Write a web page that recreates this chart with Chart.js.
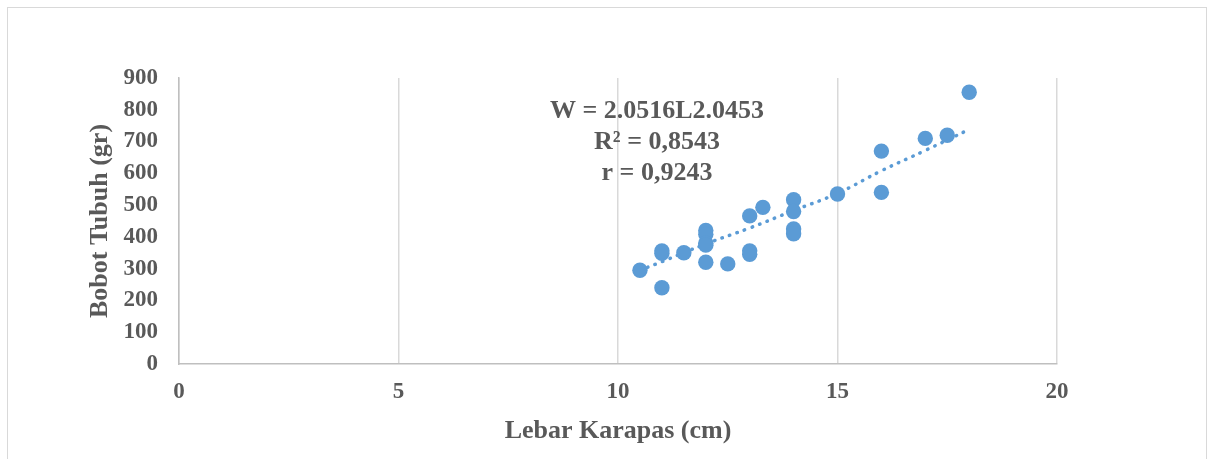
<!DOCTYPE html>
<html>
<head>
<meta charset="utf-8">
<script src="https://cdn.jsdelivr.net/npm/chart.js@4.4.4/dist/chart.umd.min.js"></script>
<style>
  html, body { margin: 0; padding: 0; background: #fff; }
  #wrap { position: relative; width: 1213px; height: 459px; overflow: hidden; }
  #frame { position: absolute; left: 7px; top: 7px; width: 1200px; height: 470px; border: 1px solid #d9d9d9; box-sizing: border-box; }
  canvas { position: absolute; left: 0; top: 0; }
</style>
</head>
<body>
<div id="wrap">
  <div id="frame"></div>
  <canvas id="chart" width="1213" height="459"></canvas>
</div>
<script>
// Lebar karapas (cm) vs bobot tubuh (gr)
const lebar = [10.5, 11, 11, 11, 11.5, 12, 12, 12, 12, 12, 12.5, 13, 13, 13, 13.3, 14, 14, 14, 14, 15, 16, 16, 17, 17.5, 18];
const bobot = [295, 240, 348, 356, 350, 420, 408, 380, 374, 320, 315, 466, 345, 356, 493, 517, 480, 425, 410, 535, 670, 540, 710, 720, 855];

// power trendline
const trendX = [10.5, 11, 12, 13, 14, 15, 16, 17, 18];
const trendY = [295, 322, 378, 428, 483, 537, 608, 672, 738];

const xTicks = [0, 5, 10, 15, 20];
const yTicks = [0, 100, 200, 300, 400, 500, 600, 700, 800, 900];

const eqLines = ['W = 2.0516L2.0453', 'R\u00b2 = 0,8543', 'r = 0,9243'];

const BLUE = '#5B9BD5';
const TEXT = '#595959';
const FONT = '"Liberation Serif", "Times New Roman", serif';

const equationPlugin = {
  id: 'equation',
  afterDatasetsDraw(chart) {
    const { ctx, chartArea } = chart;
    ctx.save();
    ctx.font = `bold 26px ${FONT}`;
    ctx.fillStyle = TEXT;
    ctx.textAlign = 'center';
    ctx.textBaseline = 'middle';
    const cx = chartArea.left + 478;
    eqLines.forEach((line, i) => ctx.fillText(line, cx, chartArea.top + 33 + i * 31));
    ctx.restore();
  },
};

new Chart(document.getElementById('chart'), {
  type: 'scatter',
  data: {
    datasets: [
      {
        label: 'Bobot',
        data: lebar.map((x, i) => ({ x, y: bobot[i] })),
        backgroundColor: BLUE,
        borderWidth: 0,
        pointRadius: 7.7,
        order: 1,
      },
      {
        type: 'line',
        label: 'Trend',
        data: trendX.map((x, i) => ({ x, y: trendY[i] })),
        borderColor: BLUE,
        borderWidth: 3.5,
        borderDash: [0.5, 7.5],
        borderCapStyle: 'round',
        pointRadius: 0,
        tension: 0.4,
        fill: false,
        order: 2,
      },
    ],
  },
  plugins: [equationPlugin],
  options: {
    responsive: false,
    animation: false,
    layout: { padding: { top: 78, right: 156, left: 0, bottom: 0 } },
    plugins: { legend: { display: false }, tooltip: { enabled: false } },
    scales: {
      x: {
        type: 'linear',
        min: 0,
        max: 20,
        afterBuildTicks: (axis) => { axis.ticks = xTicks.map((v) => ({ value: v })); },
        afterFit: (axis) => { axis.height = 95; },
        grid: { color: '#d9d9d9', lineWidth: 1.5, drawTicks: false },
        border: { color: '#bfbfbf', width: 1.5 },
        ticks: { color: TEXT, padding: 14, font: { family: FONT, size: 23, weight: 'bold' } },
        title: {
          display: true,
          text: 'Lebar Karapas (cm)',
          color: TEXT,
          font: { family: FONT, size: 26, weight: 'bold' },
          padding: { top: 0, bottom: 12 },
        },
      },
      y: {
        min: 0,
        max: 900,
        afterBuildTicks: (axis) => { axis.ticks = yTicks.map((v) => ({ value: v })); },
        afterFit: (axis) => { axis.width = 179; },
        grid: { display: false, drawTicks: false },
        border: { color: '#bfbfbf', width: 1.5 },
        ticks: { color: TEXT, padding: 21, font: { family: FONT, size: 23, weight: 'bold' } },
        title: {
          display: true,
          text: 'Bobot Tubuh (gr)',
          color: TEXT,
          font: { family: FONT, size: 26, weight: 'bold' },
          padding: { top: 85, bottom: 0 },
        },
      },
    },
  },
});
</script>
</body>
</html>
